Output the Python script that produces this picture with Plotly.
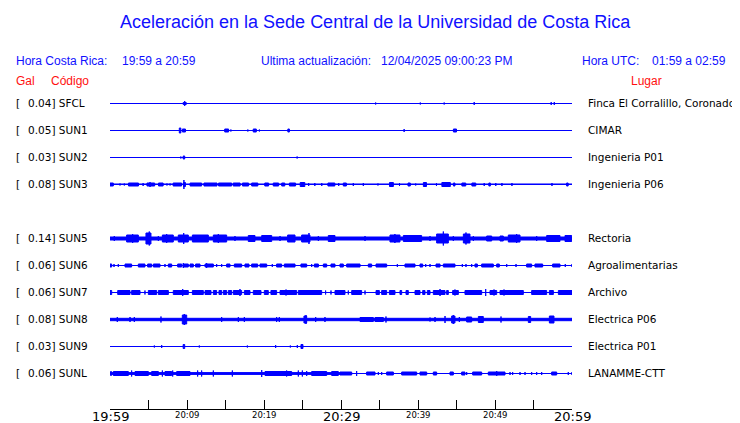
import plotly.graph_objects as go

# ---------------- data ----------------
STATIONS = ["SFCL", "SUN1", "SUN2", "SUN3", "SUN5", "SUN6", "SUN7", "SUN8", "SUN9", "SUNL"]
ROW_INDEX = [0, 1, 2, 3, 5, 6, 7, 8, 9, 10]
PEAK_GAL = ["0.04", "0.05", "0.03", "0.08", "0.14", "0.06", "0.06", "0.08", "0.03", "0.06"]
PLACES = ["Finca El Corralillo, Coronado", "CIMAR", "Ingenieria P01", "Ingenieria P06",
          "Rectoria", "Agroalimentarias", "Archivo", "Electrica P06", "Electrica P01", "LANAMME-CTT"]

# bursts: (start minute, end minute, half amplitude) measured from 19:59
SFCL_BURSTS = [(9.5, 9.9, 1.5), (9.7, 9.7, 3), (34.5, 34.5, 1.5), (40.3, 40.3, 1.5), (43.4, 43.4, 1.5),
               (47.3, 47.3, 2), (57.3, 57.3, 2), (57.7, 57.7, 2)]
SUN1_BURSTS = [(9.0, 9.2, 3), (9.4, 9.8, 2), (14.9, 15.4, 2), (15.7, 15.7, 1.5), (17.9, 17.9, 1.5),
               (18.6, 19.0, 2), (19.4, 19.4, 1.5), (21.9, 21.9, 1), (23.1, 23.3, 2), (23.5, 23.5, 1),
               (24.3, 24.3, 1), (38.2, 38.2, 2), (38.7, 38.7, 1), (44.6, 45.0, 2)]
SUN2_BURSTS = [(9.2, 9.2, 1.5), (9.5, 9.7, 2), (24.3, 24.3, 1.5)]
SUN3_BURSTS = [(0, 60, 0.8), (0.0, 0.43, 2), (1.3, 1.3, 1.5), (1.86, 1.86, 1.5), (2.4, 3.7, 2), (4.3, 4.3, 2),
               (4.8, 5.8, 2), (5.2, 5.2, 3), (6.3, 6.9, 2), (7.4, 7.4, 1.5), (7.8, 7.8, 1.5), (8.2, 9.3, 2),
               (9.6, 9.6, 5), (9.55, 9.8, 2.5), (10.4, 11.9, 2), (12.2, 13.9, 2), (14.1, 15.8, 2),
               (16.0, 16.9, 2), (17.2, 18.0, 2), (18.4, 19.2, 2), (20.1, 20.6, 2), (21.2, 21.9, 2),
               (22.3, 22.7, 2), (23.3, 24.1, 2), (24.7, 25.3, 2.5), (25.8, 25.8, 2), (26.6, 26.6, 2),
               (27.5, 27.5, 2), (28.3, 29.2, 2), (29.7, 29.7, 2), (30.3, 30.7, 2), (31.6, 31.6, 2),
               (32.9, 32.9, 2), (34.8, 34.8, 1.5), (36.3, 36.8, 2.5), (37.6, 37.6, 2), (38.7, 39.0, 2),
               (39.7, 39.7, 1.5), (40.7, 41.1, 2.5), (42.4, 42.4, 2), (43.1, 44.2, 2.5), (44.6, 44.8, 2),
               (45.7, 46.2, 2), (47.0, 47.5, 2), (48.6, 48.6, 2), (49.2, 49.4, 2), (50.1, 50.1, 2),
               (50.9, 50.9, 2), (52.2, 52.2, 2), (57.4, 57.4, 2), (59.3, 59.5, 2)]
SUN5_BURSTS = [(0, 60, 2.0), (0.56, 0.56, 3), (2.16, 3.68, 4), (2.94, 2.94, 5), (4.67, 5.32, 6),
               (5.1, 5.1, 7.5), (6.28, 6.28, 3), (6.8, 8.22, 4), (7.36, 7.36, 5), (8.87, 10.17, 4),
               (9.57, 9.57, 6), (10.7, 12.77, 4), (13.42, 15.15, 4), (14.07, 14.07, 5), (16.23, 16.23, 3),
               (17.96, 18.83, 3.5), (19.7, 21.0, 3.5), (22.08, 22.08, 3), (23.07, 24.03, 4),
               (24.89, 25.97, 4), (25.84, 25.84, 6), (27.06, 27.06, 3), (28.35, 29.22, 3.5),
               (33.12, 33.12, 3), (36.36, 37.66, 4), (37.0, 37.0, 5), (38.1, 40.47, 3.5), (41.56, 41.56, 3),
               (42.42, 43.94, 5), (43.29, 43.29, 7.5), (44.59, 44.59, 3), (45.89, 46.75, 5),
               (46.23, 46.23, 6.5), (47.19, 47.19, 3), (48.92, 49.57, 3), (50.65, 51.08, 3),
               (51.73, 53.25, 4), (52.81, 52.81, 5), (55.41, 55.41, 3), (56.71, 58.44, 3.5),
               (59.09, 59.96, 3.5)]
SUN6_BURSTS = [(0.0, 0.22, 2), (0.52, 0.52, 2), (1.08, 1.08, 2), (1.95, 2.81, 2), (3.68, 4.54, 2),
               (4.89, 5.41, 2), (5.63, 6.49, 2), (7.14, 7.14, 2), (7.58, 8.01, 2), (8.79, 9.31, 2),
               (9.52, 10.17, 2), (9.52, 9.52, 3), (10.39, 10.82, 2), (11.12, 11.69, 2), (12.34, 13.42, 2),
               (12.55, 12.55, 3), (13.85, 13.85, 2), (14.5, 14.5, 2), (15.15, 15.58, 2), (16.15, 17.1, 2),
               (17.53, 18.05, 2), (18.4, 19.18, 2), (19.48, 20.35, 2), (21.08, 21.08, 2), (21.64, 22.29, 2),
               (22.64, 24.03, 2), (24.8, 25.54, 2), (26.19, 26.19, 2), (26.54, 27.06, 2), (27.71, 28.14, 2),
               (28.7, 29.22, 2), (29.87, 30.3, 2), (30.74, 32.47, 2), (33.55, 33.98, 2), (34.55, 35.93, 2),
               (37.32, 37.32, 2), (38.31, 39.61, 2), (40.26, 40.61, 2), (41.0, 41.0, 2), (41.56, 41.56, 2),
               (42.34, 42.86, 2), (43.29, 44.8, 2), (45.76, 45.76, 2), (46.23, 46.23, 2), (46.97, 46.97, 2),
               (47.4, 47.71, 2), (48.27, 49.78, 2), (50.22, 50.56, 2), (51.52, 51.52, 2), (52.73, 52.73, 2),
               (54.11, 54.76, 2), (55.19, 56.19, 2), (57.49, 58.44, 2), (59.13, 59.13, 2), (60.0, 60.0, 2)]
SUN7_BURSTS = [(0.0, 0.22, 2.5), (1.0, 2.6, 2.5), (2.81, 3.9, 2.5), (4.54, 4.54, 2.5), (4.98, 6.06, 2.5),
               (6.28, 7.58, 2.5), (8.22, 10.17, 2.5), (9.44, 9.44, 4), (10.7, 12.12, 2.5), (12.34, 13.12, 2.5),
               (13.42, 13.85, 2.5), (14.15, 14.5, 2.5), (14.72, 15.15, 2.5), (15.37, 15.8, 2.5),
               (16.02, 17.1, 2.5), (16.88, 16.88, 4), (17.45, 18.18, 2.5), (18.61, 19.61, 2.5),
               (20.04, 20.56, 2.5), (20.9, 21.64, 2.5), (22.08, 24.24, 2.5), (22.86, 22.86, 3.5),
               (24.46, 27.49, 2.5), (28.0, 28.0, 2.5), (28.7, 28.7, 2.5), (29.22, 30.52, 2.5),
               (30.95, 30.95, 2.5), (31.39, 32.68, 2.5), (33.12, 33.12, 2.5), (34.55, 34.98, 2.5),
               (35.28, 35.93, 2.5), (36.28, 37.01, 2.5), (37.66, 37.88, 2.5), (38.44, 38.74, 2.5),
               (39.61, 40.26, 2.5), (40.61, 40.91, 2.5), (41.21, 41.56, 2.5), (41.99, 43.51, 2.5),
               (42.86, 42.86, 4), (43.72, 43.94, 2.5), (44.5, 45.24, 2.5), (44.8, 44.8, 3.5),
               (46.1, 48.27, 2.5), (48.79, 48.79, 4), (49.35, 50.22, 2.5), (49.87, 49.87, 3.5),
               (50.65, 53.68, 2.5), (51.17, 51.17, 3.5), (54.76, 56.71, 2.5), (57.06, 57.58, 2.5),
               (58.23, 60.0, 2.5)]
SUN8_BURSTS = [(0, 60, 1.7), (0.95, 0.95, 3), (2.6, 2.6, 3), (3.16, 3.16, 3), (6.62, 6.62, 3.5),
               (9.39, 9.96, 5), (9.65, 9.65, 6), (14.5, 14.5, 3), (16.67, 16.67, 3), (17.45, 17.45, 3),
               (21.64, 21.64, 3), (21.99, 21.99, 3), (25.19, 25.54, 4), (25.45, 25.45, 5), (26.71, 26.71, 3),
               (27.92, 27.92, 3), (32.47, 34.2, 2.5), (34.42, 35.5, 2.5), (35.84, 35.84, 3.5),
               (41.56, 41.56, 2.5), (42.21, 42.21, 3), (43.51, 43.51, 4), (44.37, 44.8, 4),
               (44.59, 44.59, 5), (45.37, 45.37, 3), (46.32, 46.97, 3), (47.84, 48.48, 3.5),
               (50.78, 50.78, 3.5), (54.33, 54.63, 3.5), (57.06, 57.66, 4)]
SUN9_BURSTS = [(5.76, 5.76, 1.5), (6.15, 6.15, 1), (6.71, 6.71, 2), (9.5, 9.7, 2.5), (11.6, 11.6, 1.5),
               (17.84, 17.84, 1.5), (21.51, 21.51, 2), (23.42, 23.42, 1.5), (24.33, 24.33, 2),
               (24.8, 25.06, 2.5)]
SUNL_BURSTS = [(0, 29.9, 1.4), (0.13, 0.13, 3), (0.43, 2.38, 2.5), (2.81, 2.81, 3.5), (3.25, 4.98, 2.5),
               (5.41, 6.28, 2.5), (6.8, 6.8, 3.5), (7.14, 8.01, 2.5), (8.14, 8.14, 3.5), (8.66, 10.39, 2.5),
               (11.38, 11.38, 3.5), (11.9, 11.9, 3.5), (13.42, 13.42, 3.5), (15.89, 15.89, 3.5),
               (19.7, 19.7, 4), (20.13, 23.59, 2.5), (22.94, 22.94, 3.5), (24.46, 24.46, 3.5),
               (24.98, 24.98, 3.5), (25.54, 25.54, 3), (26.19, 28.14, 2.5), (28.79, 29.65, 2.5),
               (29.87, 31.39, 2), (32.03, 32.03, 3), (33.33, 34.42, 2), (34.85, 34.85, 2), (35.28, 35.28, 2),
               (35.93, 36.8, 2), (37.88, 39.83, 2), (40.26, 41.13, 2), (41.99, 42.42, 2), (44.16, 44.59, 2),
               (45.67, 46.1, 2), (46.32, 46.32, 2), (47.1, 48.27, 2), (49.13, 51.3, 2), (50.22, 50.22, 3),
               (51.95, 51.95, 2), (52.29, 52.29, 2), (53.25, 53.25, 2), (53.9, 53.9, 2), (54.76, 54.76, 2),
               (55.41, 55.41, 2), (56.06, 56.06, 2), (57.36, 58.01, 2), (59.52, 59.52, 2), (60.0, 60.0, 2)]

BURSTS = [SFCL_BURSTS, SUN1_BURSTS, SUN2_BURSTS, SUN3_BURSTS, SUN5_BURSTS,
          SUN6_BURSTS, SUN7_BURSTS, SUN8_BURSTS, SUN9_BURSTS, SUNL_BURSTS]

TICK_MINUTES = list(range(0, 61, 5))
MAJOR_MIN = [0, 30, 60]
MAJOR_LABELS = ["19:59", "20:29", "20:59"]
MINOR_MIN = [10, 20, 40, 50]
MINOR_LABELS = ["20:09", "20:19", "20:39", "20:49"]

TITLE = "Aceleración en la Sede Central de la Universidad de Costa Rica"
HORA_CR = "19:59 a 20:59"
UPDATED = "12/04/2025 09:00:23 PM"
HORA_UTC = "01:59 a 02:59"

# ---------------- layout constants (reference pixel coords) ----------------
PAGE_W, PAGE_H = 740, 423
OFF = 8                      # default body margin of the page
W, H = PAGE_W - OFF, PAGE_H - OFF
L, R, T, B = 110, 572, 90, 409
ROW_STEP = 27
FIRST_ROW_Y = 103
BLUE = "#0000ff"
TBLUE = "#1010ff"
RED = "#ff1010"
HFONT = "Liberation Sans, Arial, sans-serif"
LFONT = "DejaVu Sans, sans-serif"


def px(x):
    return (x - L) / (R - L)


def py(y):
    return (B - y) / (B - T)


fig = go.Figure()

for name, row, bursts in zip(STATIONS, ROW_INDEX, BURSTS):
    y0 = row * ROW_STEP
    fig.add_trace(go.Scatter(x=[0, 60], y=[y0, y0], mode="lines",
                             line=dict(color=BLUE, width=1), hoverinfo="skip", showlegend=False))
    xs, ys = [], []
    for a, b, h in bursts:
        hh = max(h - 0.5, 0.3)
        xs += [a, b, b, a, a, None]
        ys += [y0 - hh, y0 - hh, y0 + hh, y0 + hh, y0 - hh, None]
    fig.add_trace(go.Scatter(x=xs, y=ys, mode="lines", fill="toself", fillcolor=BLUE,
                             line=dict(color=BLUE, width=1), hoverinfo="skip", showlegend=False))

ann = []
# tick labels
for m, lab in zip(MAJOR_MIN, MAJOR_LABELS):
    ann.append(dict(x=m, y=py(416), xref="x", yref="paper", text=lab, showarrow=False,
                    xanchor="center", yanchor="middle", borderpad=0,
                    font=dict(family=LFONT, size=13, color="black")))
for m, lab in zip(MINOR_MIN, MINOR_LABELS):
    ann.append(dict(x=m, y=py(415), xref="x", yref="paper", text=lab, showarrow=False,
                    xanchor="center", yanchor="middle", borderpad=0,
                    font=dict(family=LFONT, size=8.5, color="black")))

# station labels
for name, row, gal, place in zip(STATIONS, ROW_INDEX, PEAK_GAL, PLACES):
    yy = FIRST_ROW_Y + row * ROW_STEP
    ann.append(dict(x=px(14), y=py(yy), xref="paper", yref="paper", text="[", showarrow=False,
                    xanchor="left", yanchor="middle", font=dict(family=LFONT, size=10.5, color="black")))
    ann.append(dict(x=px(26), y=py(yy), xref="paper", yref="paper", text=f"{gal}] {name}",
                    showarrow=False, xanchor="left", yanchor="middle",
                    font=dict(family=LFONT, size=10.5, color="black")))
    ann.append(dict(x=px(586), y=py(yy), xref="paper", yref="paper", text=place, showarrow=False,
                    xanchor="left", yanchor="middle", font=dict(family=LFONT, size=10.5, color="black")))


def head(x, y, text, color, size=12, anchor="left"):
    ann.append(dict(x=px(x), y=py(y), xref="paper", yref="paper", text=text, showarrow=False,
                    xanchor=anchor, yanchor="middle", font=dict(family=HFONT, size=size, color=color)))


head(375, 22.5, TITLE, TBLUE, size=18, anchor="center")
head(14, 61, "Hora Costa Rica:", TBLUE)
head(120, 61, HORA_CR, TBLUE)
head(259, 61, "Ultima actualización:", TBLUE)
head(379, 61, UPDATED, TBLUE)
head(580, 61, "Hora UTC:", TBLUE)
head(650, 61, HORA_UTC, TBLUE)
head(14, 81, "Gal", RED)
head(49, 81, "Código", RED)
head(629, 81, "Lugar", RED)

# y range: one unit per pixel, shifted half a pixel so 1px baselines render crisp
Y_TOP = -(FIRST_ROW_Y - T) - 0.5
Y_BOTTOM = Y_TOP + (B - T)

fig.update_layout(
    width=W, height=H,
    margin=dict(l=L - OFF, r=PAGE_W - R, t=T - OFF, b=PAGE_H - B, pad=0),
    paper_bgcolor="white", plot_bgcolor="white",
    annotations=ann,
    xaxis=dict(range=[0, 60], tickvals=TICK_MINUTES, showticklabels=False, ticks="inside",
               ticklen=9, tickwidth=1, tickcolor="black", showline=True, linecolor="black",
               linewidth=1, showgrid=False, zeroline=False, fixedrange=True),
    yaxis=dict(range=[Y_BOTTOM, Y_TOP], visible=False, showgrid=False,
               zeroline=False, fixedrange=True),
)

fig.write_html("out.html", config={"displayModeBar": False})
